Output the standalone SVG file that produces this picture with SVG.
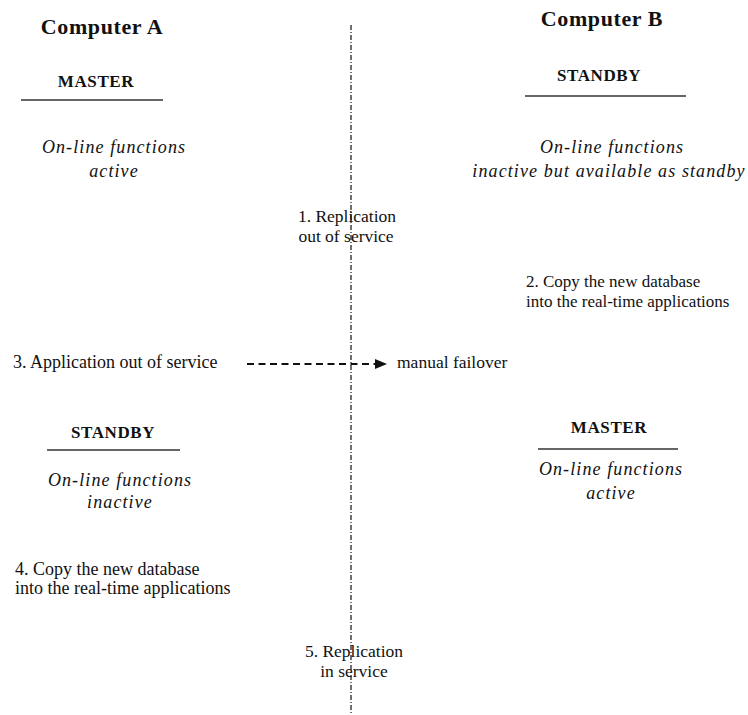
<svg xmlns="http://www.w3.org/2000/svg" width="748" height="715" viewBox="0 0 748 715">
  <style>
    text { font-family: "Liberation Serif", "Times New Roman", serif; fill: #111; }
    .title { font-size: 22px; font-weight: bold; letter-spacing: 0.6px; text-anchor: middle; }
    .role { font-size: 17px; font-weight: bold; letter-spacing: 0.6px; text-anchor: middle; }
    .state { font-size: 18px; font-style: italic; letter-spacing: 1.1px; text-anchor: middle; }
    .step { font-size: 17.5px; }
    .narrow { font-size: 17px; }
    .wide { font-size: 18px; }
    .mid { text-anchor: middle; }
    .rule { stroke: #333; stroke-width: 1.5; }
    .divider { stroke: #111; stroke-width: 1.2; stroke-dasharray: 5 2 1 2; fill: none; }
    .flow { stroke: #111; stroke-width: 2; stroke-dasharray: 7 4.5; fill: none; }
  </style>
  <defs>
    <marker id="arrowhead" markerWidth="12" markerHeight="10" refX="0" refY="5" orient="auto" markerUnits="userSpaceOnUse">
      <polygon points="0,0 12,5 0,10" fill="#111"/>
    </marker>
  </defs>
  <rect width="748" height="715" fill="#fff"/>

  <!-- boundary between the two computers, and the failover arrow -->
  <g id="connectors">
    <line class="divider" x1="351" y1="25" x2="351" y2="713"/>
    <line class="flow" x1="247" y1="364" x2="375" y2="364" marker-end="url(#arrowhead)"/>
  </g>

  <g id="computer-a">
    <text class="title" x="102" y="34">Computer A</text>
  </g>
  <g id="computer-b">
    <text class="title" x="602" y="26">Computer B</text>
  </g>

  <g id="a-master">
    <text class="role" x="96" y="87">MASTER</text>
    <line class="rule" x1="21" y1="100" x2="163" y2="100"/>
    <text class="state" x="114" y="153">On-line functions</text>
    <text class="state" x="114" y="177">active</text>
  </g>

  <g id="b-standby">
    <text class="role" x="599" y="81">STANDBY</text>
    <line class="rule" x1="525" y1="96" x2="686" y2="96"/>
    <text class="state" x="612" y="153">On-line functions</text>
    <text class="state" x="609" y="177">inactive but available as standby</text>
  </g>

  <g id="step-1">
    <text class="step mid" x="347" y="222">1. Replication</text>
    <text class="step mid" x="346" y="242">out of service</text>
  </g>

  <g id="step-2">
    <text class="step narrow" x="526" y="287">2. Copy the new database</text>
    <text class="step narrow" x="526" y="307">into the real-time applications</text>
  </g>

  <g id="step-3">
    <text class="step wide" x="13" y="368">3. Application out of service</text>
  </g>

  <g id="failover">
    <text class="step" x="397" y="368">manual failover</text>
  </g>

  <g id="a-standby">
    <text class="role" x="113" y="438">STANDBY</text>
    <line class="rule" x1="47" y1="450" x2="180" y2="450"/>
    <text class="state" x="120" y="486">On-line functions</text>
    <text class="state" x="120" y="508">inactive</text>
  </g>

  <g id="b-master">
    <text class="role" x="609" y="433">MASTER</text>
    <line class="rule" x1="538" y1="449" x2="678" y2="449"/>
    <text class="state" x="611" y="475">On-line functions</text>
    <text class="state" x="611" y="499">active</text>
  </g>

  <g id="step-4">
    <text class="step wide" x="15" y="575">4. Copy the new database</text>
    <text class="step wide" x="15" y="594">into the real-time applications</text>
  </g>

  <g id="step-5">
    <text class="step mid" x="354" y="657">5. Replication</text>
    <text class="step mid" x="354" y="677">in service</text>
  </g>
</svg>
